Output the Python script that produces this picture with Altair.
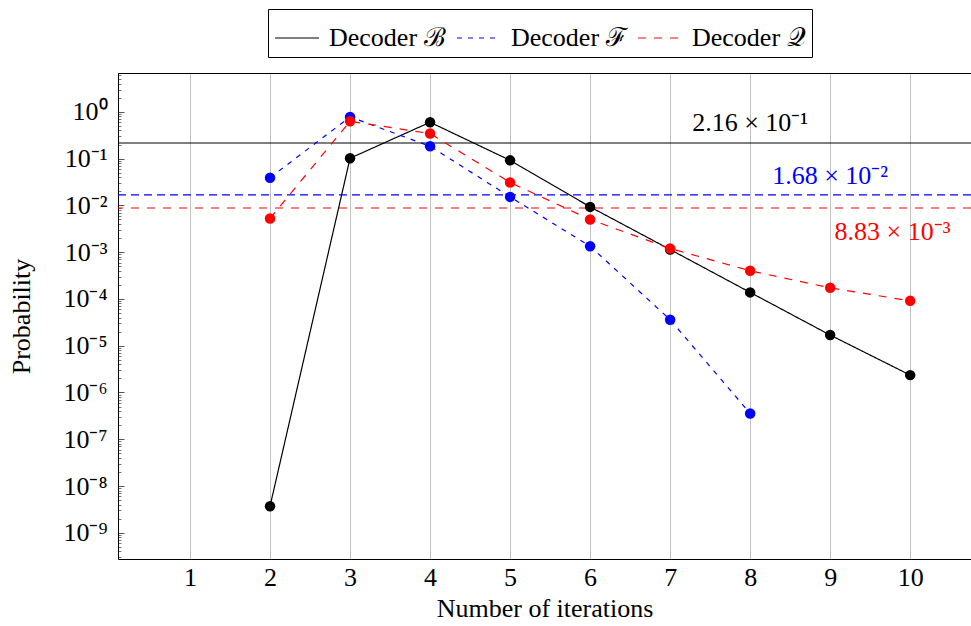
import altair as alt
import pandas as pd

# ---------------- data ----------------
iter_B = [2, 3, 4, 5, 6, 7, 8, 9, 10]
decoder_B = [3.7e-9, 0.102, 0.60, 0.092, 9.3e-3, 1.14e-3, 1.38e-4, 1.69e-5, 2.35e-6]
iter_F = [2, 3, 4, 5, 6, 7, 8]
decoder_F = [0.039, 0.78, 0.184, 0.0152, 1.34e-3, 3.6e-5, 3.56e-7]
iter_Q = [2, 3, 4, 5, 6, 7, 8, 9, 10]
decoder_Q = [5.25e-3, 0.63, 0.344, 0.031, 5.0e-3, 1.2e-3, 4.0e-4, 1.73e-4, 9.1e-5]

series_names = ["Decoder ℬ", "Decoder ℱ", "Decoder 𝒬"]
threshold_values = [2.16e-1, 1.68e-2, 8.83e-3]
threshold_labels = ["2.16 × 10⁻¹", "1.68 × 10⁻²", "8.83 × 10⁻³"]
x_ticks = [1, 2, 3, 4, 5, 6, 7, 8, 9, 10]
y_exponents = [0, -1, -2, -3, -4, -5, -6, -7, -8, -9]

# ---------------- styles ----------------
FONT = "Liberation Serif"
FS = 26
colors = ["#000000", "#0000ff", "#ff0000"]
line_dashes = [[1, 0], [5, 6], [8, 8]]
rule_dashes = [[1, 0], [8, 5], [8, 8]]
Y_DOMAIN = [2.75e-10, 6.78]
X_DOMAIN = [0.1, 10.76]

sup = str.maketrans("-0123456789", "⁻⁰¹²³⁴⁵⁶⁷⁸⁹")
major_vals = [10.0 ** k for k in y_exponents]
minor_vals = [m * 10.0 ** k for k in range(-10, 1) for m in range(2, 10)
              if Y_DOMAIN[0] <= m * 10.0 ** k <= Y_DOMAIN[1]]
parts = []
for k in y_exponents:
    parts.append(f"datum.value > {0.5 * 10.0 ** k} ? '10{str(k).translate(sup)}'")
label_expr = " : ".join(parts) + " : ''"

xs = alt.Scale(domain=X_DOMAIN, nice=False, zero=False)
ys = alt.Scale(type="log", domain=Y_DOMAIN, nice=False)

def frame(xv, yv, name):
    return pd.DataFrame({"x": xv, "y": yv, "series": name})

dfB = frame(iter_B, decoder_B, series_names[0])
dfF = frame(iter_F, decoder_F, series_names[1])
dfQ = frame(iter_Q, decoder_Q, series_names[2])

legend = alt.Legend(
    orient="none", legendX=150, legendY=-64, direction="horizontal", title=None,
    symbolType="stroke", symbolSize=1936, symbolStrokeWidth=1.2,
    labelFont=FONT, labelFontSize=FS, labelOffset=9, columnPadding=8,
    padding=6, strokeColor="black", fillColor="white", labelLimit=0,
)
color_enc = alt.Color("series:N", scale=alt.Scale(domain=series_names, range=colors), legend=legend)
dash_enc = alt.StrokeDash("series:N", scale=alt.Scale(domain=series_names, range=line_dashes), legend=legend)

x_bottom = alt.Axis(orient="bottom", values=x_ticks, grid=True, gridColor="#c0c0c0", gridWidth=1,
                    ticks=False, domain=True, domainColor="black", domainWidth=1,
                    labelFont=FONT, labelFontSize=FS, labelPadding=5, labelColor="black",
                    title="Number of iterations", titleFont=FONT, titleFontSize=FS,
                    titleFontWeight="normal", titlePadding=5, titleColor="black")
x_top = alt.Axis(orient="top", domain=True, domainColor="black", ticks=False, labels=False,
                 grid=False, title=None)
y_major = alt.Axis(orient="left", values=major_vals, labelExpr=label_expr, tickSize=6, offset=-6,
                   tickColor="#555555", domain=False, grid=False, labelPadding=11,
                   labelFont=FONT, labelFontSize=FS, labelColor="black",
                   title="Probability", titleFont=FONT, titleFontSize=FS, titleFontWeight="normal",
                   titleColor="black", titlePadding=28)
y_minor = alt.Axis(orient="left", values=minor_vals, tickSize=3, offset=-3, tickColor="#777777",
                   labels=False, domain=False, grid=False, title=None)
y_dom = alt.Axis(orient="left", domain=True, domainColor="black", ticks=False, labels=False,
                 grid=False, title=None)

layers = []
for v, c, d in zip(threshold_values, colors, rule_dashes):
    layers.append(
        alt.Chart(pd.DataFrame({"y": [v]})).mark_rule(color=c, strokeDash=d, strokeWidth=1.1)
        .encode(y=alt.Y("y:Q", scale=ys, axis=None))
    )

def line_layer(df, xa, ya):
    return alt.Chart(df).mark_line(strokeWidth=1.2).encode(
        x=alt.X("x:Q", scale=xs, axis=xa), y=alt.Y("y:Q", scale=ys, axis=ya),
        color=color_enc, strokeDash=dash_enc)

def point_layer(df, c, xa, ya):
    return alt.Chart(df).mark_circle(size=110, opacity=1, color=c).encode(
        x=alt.X("x:Q", scale=xs, axis=xa), y=alt.Y("y:Q", scale=ys, axis=ya))

layers.append(line_layer(dfB, x_bottom, y_major))
layers.append(point_layer(dfB, colors[0], x_top, y_minor))
layers.append(line_layer(dfF, None, y_dom))
layers.append(point_layer(dfF, colors[1], None, None))
layers.append(line_layer(dfQ, None, None))
layers.append(point_layer(dfQ, colors[2], None, None))

ann_x = [8.0, 9.0, 9.78]
ann_dy = [-20, -19, 24]
for xv, v, t, c, dy in zip(ann_x, threshold_values, threshold_labels, colors, ann_dy):
    layers.append(
        alt.Chart(pd.DataFrame({"x": [xv], "y": [v], "t": [t]}))
        .mark_text(font=FONT, fontSize=FS, color=c, dy=dy, align="center", baseline="middle")
        .encode(x=alt.X("x:Q", scale=xs, axis=None), y=alt.Y("y:Q", scale=ys, axis=None), text="t:N")
    )

chart = (
    alt.layer(*layers)
    .resolve_scale(x="shared", y="shared")
    .resolve_axis(x="independent", y="independent")
    .properties(width=853, height=486,
                padding={"left": 118, "top": 73, "right": 0, "bottom": 67},
                autosize=alt.AutoSizeParams(type="none"))
    .configure_view(stroke=None)
    .configure(font=FONT, background="white")
)

chart.save("out.html", embed_options={"renderer": "svg", "actions": False})
